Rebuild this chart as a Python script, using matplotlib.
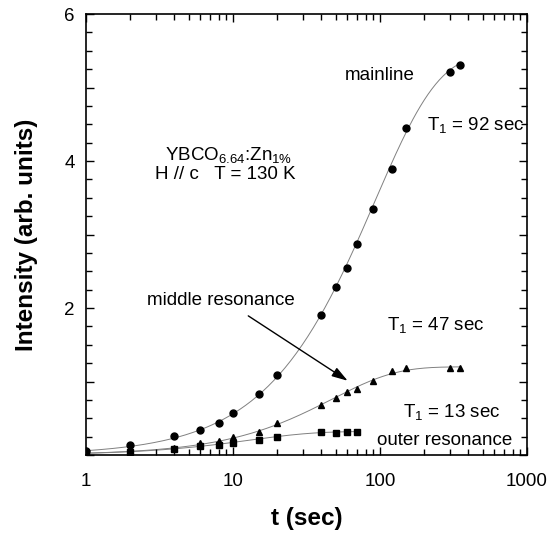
import numpy as np
import matplotlib
matplotlib.use('Agg')
from matplotlib import pyplot as plt
from matplotlib.ticker import MultipleLocator, FuncFormatter, LogLocator, NullFormatter

plt.rcParams['font.family'] = ['Liberation Sans', 'DejaVu Sans']
plt.rcParams['mathtext.fontset'] = 'custom'
plt.rcParams['mathtext.rm'] = 'Liberation Sans'

# mainline (circles)
main_t = [1, 2, 4, 6, 8, 10, 15, 20, 40, 50, 60, 70, 90, 120, 150, 300, 350]
main_i = [0.06, 0.14, 0.26, 0.34, 0.44, 0.57, 0.83, 1.09, 1.90, 2.29, 2.54, 2.87, 3.35, 3.89, 4.45, 5.21, 5.31]

# middle resonance (triangles)
mid_t = [1, 2, 4, 6, 8, 10, 15, 20, 40, 50, 60, 70, 90, 120, 150, 300, 350]
mid_i = [0.03, 0.05, 0.10, 0.17, 0.19, 0.24, 0.32, 0.43, 0.68, 0.77, 0.86, 0.90, 1.01, 1.14, 1.19, 1.19, 1.19]

# outer resonance (squares)
out_t = [1, 2, 4, 6, 8, 10, 15, 20, 40, 50, 60, 70]
out_i = [0.03, 0.04, 0.08, 0.12, 0.13, 0.17, 0.21, 0.24, 0.32, 0.30, 0.32, 0.32]

# fit parameters: amplitude, T1 (sec), end of fit range
main_fit = (5.45, 92, 350)
mid_fit = (1.20, 47, 350)
out_fit = (0.32, 13, 70)

fig = plt.figure(figsize=(5.57, 5.33), dpi=100)
ax = fig.add_axes([0.1544, 0.1463, 0.7917, 0.8274])

for amp, t1, tend in [main_fit, mid_fit, out_fit]:
    tt = np.logspace(0, np.log10(tend), 200)
    ax.plot(tt, amp * (1 - np.exp(-tt / t1)), color='#808080', lw=0.7, zorder=1)

ax.plot(main_t, main_i, 'o', color='black', ms=5, zorder=3)
ax.plot(mid_t, mid_i, '^', color='black', ms=4.8, zorder=3)
ax.plot(out_t, out_i, 's', color='black', ms=4.8, zorder=3)

ax.set_xscale('log')
ax.set_xlim(1, 1000)
ax.set_ylim(0, 6)
ax.xaxis.set_major_locator(LogLocator(base=10, numticks=10))
ax.xaxis.set_minor_locator(LogLocator(base=10, subs=np.arange(2, 10), numticks=10))
ax.xaxis.set_minor_formatter(NullFormatter())
ax.xaxis.set_major_formatter(FuncFormatter(lambda v, p: '%d' % round(v)))
ax.yaxis.set_major_locator(MultipleLocator(1))
ax.yaxis.set_minor_locator(MultipleLocator(0.25))
ax.yaxis.set_major_formatter(FuncFormatter(lambda v, p: '%d' % v if v > 0 and int(round(v)) % 2 == 0 else ''))

ax.tick_params(which='both', direction='in', top=True, right=True, labelsize=13.5, width=1)
ax.tick_params(which='major', length=6)
ax.tick_params(which='minor', length=4)
ax.tick_params(axis='x', which='major', pad=13)
ax.tick_params(axis='y', which='major', pad=8)
for s in ax.spines.values():
    s.set_linewidth(1.2)

ax.set_xlabel('t (sec)', fontsize=17.5, fontweight='bold', labelpad=12)
ax.set_ylabel('Intensity (arb. units)', fontsize=17.5, fontweight='bold', labelpad=19)

fs = 13.5
ax.text(57.8, 5.17, 'mainline', fontsize=fs, va='center')
ax.text(208, 4.42, r'$\mathregular{T_1}$ = 92 sec', fontsize=fs, va='baseline')
ax.text(3.45, 4.02, r'YBCO$\mathregular{_{6.64}}$:Zn$\mathregular{_{1\%}}$', fontsize=fs, va='baseline')
ax.text(2.95, 3.755, 'H // c   T = 130 K', fontsize=fs, va='baseline')
ax.text(2.61, 2.04, 'middle resonance', fontsize=fs, va='baseline')
ax.annotate('', xy=(62.5, 0.99), xytext=(12.25, 1.914),
            arrowprops=dict(arrowstyle='-|>,head_width=0.25,head_length=0.8', color='black', lw=1, mutation_scale=12))
ax.text(111, 1.70, r'$\mathregular{T_1}$ = 47 sec', fontsize=fs, va='baseline')
ax.text(144, 0.513, r'$\mathregular{T_1}$ = 13 sec', fontsize=fs, va='baseline')
ax.text(95.9, 0.136, 'outer resonance', fontsize=fs, va='baseline')

fig.savefig('out.png', dpi=100)
